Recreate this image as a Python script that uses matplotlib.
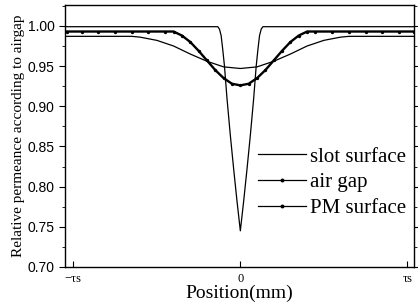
import matplotlib
matplotlib.use("Agg")
import matplotlib.pyplot as plt
from matplotlib.ticker import MultipleLocator
from matplotlib.lines import Line2D

# Position normalised to slot pitch (tau_s)
slot_x = [-1.04, -0.135, -0.125, -0.115, -0.105, -0.095, -0.08, -0.06, -0.04, -0.02, 0.0,
          0.02, 0.04, 0.06, 0.08, 0.095, 0.105, 0.115, 0.125, 0.135, 1.04]
slot_y = [0.999, 0.999, 0.996, 0.988, 0.970, 0.950, 0.910, 0.864, 0.822, 0.782, 0.745,
          0.782, 0.822, 0.864, 0.910, 0.950, 0.970, 0.988, 0.996, 0.999, 0.999]

gap_x = [-1.04, -0.95, -0.85, -0.75, -0.65, -0.55, -0.45, -0.40, -0.35, -0.30, -0.25, -0.20,
         -0.15, -0.10, -0.05, 0.0, 0.05, 0.10, 0.15, 0.20, 0.25, 0.30, 0.35, 0.40, 0.45,
         0.55, 0.65, 0.75, 0.85, 0.95, 1.04]
gap_y = [0.993, 0.993, 0.993, 0.993, 0.993, 0.993, 0.993, 0.993, 0.988, 0.980, 0.969, 0.957,
         0.945, 0.935, 0.928, 0.926, 0.928, 0.935, 0.945, 0.957, 0.969, 0.980, 0.988, 0.993, 0.993,
         0.993, 0.993, 0.993, 0.993, 0.993, 0.993]

pm_x = [-1.04, -0.65, -0.60, -0.50, -0.40, -0.30, -0.20, -0.10, 0.0,
        0.10, 0.20, 0.30, 0.40, 0.50, 0.60, 0.65, 1.04]
pm_y = [0.987, 0.987, 0.986, 0.982, 0.975, 0.965, 0.956, 0.949, 0.947,
        0.949, 0.956, 0.965, 0.975, 0.982, 0.986, 0.987, 0.987]

x_ticks = [-1, 0, 1]
x_ticklabels = ["\u2212\u03c4s", "0", "\u03c4s"]
y_ticks = [0.70, 0.75, 0.80, 0.85, 0.90, 0.95, 1.00]
labels = ["slot surface", "air gap", "PM surface"]

serif = ["Liberation Serif", "DejaVu Serif"]
sans = ["Liberation Sans", "DejaVu Sans"]

fig = plt.figure(figsize=(4.18, 3.07), dpi=100)
ax = fig.add_axes([65/418, 1 - 267/307, (414-65)/418, (267-5)/307])

ax.plot(slot_x, slot_y, color="black", lw=0.9)
ax.plot(gap_x, gap_y, color="black", lw=1.7, marker="o", ms=1.4)
ax.plot(pm_x, pm_y, color="black", lw=0.9)

ax.set_xlim(-1.05, 1.04)
ax.set_ylim(0.70, 1.026)

ax.set_yticks(y_ticks)
ax.set_yticklabels([f"{v:.2f}" for v in y_ticks], family=sans, fontsize=10)
ax.yaxis.set_minor_locator(MultipleLocator(0.025))
ax.set_xticks(x_ticks)
ax.set_xticklabels(x_ticklabels, family=serif, fontsize=9)

ax.tick_params(axis="y", which="major", direction="out", length=4, width=0.8, right=True)
ax.tick_params(axis="y", which="minor", direction="out", length=2.5, width=0.6, right=True)
ax.tick_params(axis="x", which="major", direction="in", length=4, width=0.8, pad=4)
for s in ax.spines.values():
    s.set_linewidth(1.0)

ax.set_xlabel("Position(mm)", family=serif, fontsize=14, labelpad=0)
ax.set_ylabel("Relative permeance according to airgap", family=serif, fontsize=11, labelpad=2)

handles = [
    Line2D([], [], color="black", lw=0.9),
    Line2D([], [], color="black", lw=0.9, marker="o", ms=1.8),
    Line2D([], [], color="black", lw=0.9, marker="o", ms=1.8),
]
leg = ax.legend(handles, labels, loc="upper left", bbox_to_anchor=(0.53, 0.49), frameon=False,
                prop={"family": serif, "size": 15}, handlelength=2.3,
                handletextpad=0.2, labelspacing=0.3, borderaxespad=0.0)

fig.savefig("out.png", dpi=100)
